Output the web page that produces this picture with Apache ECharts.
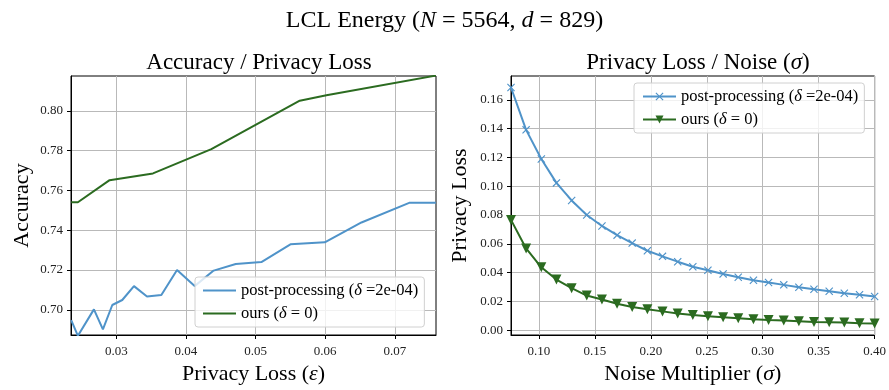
<!DOCTYPE html>
<html>
<head>
<meta charset="utf-8">
<script src="https://cdn.jsdelivr.net/npm/echarts@6/dist/echarts.min.js"></script>
<style>
  html, body { margin: 0; padding: 0; background: #fff; }
  #chart { width: 889px; height: 390px; }
</style>
</head>
<body>
<div id="chart"></div>
<script>
// left panel: accuracy vs privacy loss
const accEps = [0.02353, 0.02449, 0.02679, 0.02808, 0.02943, 0.03086, 0.03254, 0.03441, 0.03647, 0.03872,
  0.04125, 0.04398, 0.04715, 0.05083, 0.05500, 0.05993, 0.06520, 0.07205, 0.07588];
const accPost = [0.6948, 0.6869, 0.7002, 0.6901, 0.7024, 0.7049, 0.7119, 0.7067, 0.7074, 0.7200,
  0.7119, 0.7197, 0.7230, 0.7240, 0.7329, 0.7339, 0.7439, 0.7538, 0.7538];
const oursEps = [0.02353, 0.02449, 0.02904, 0.03527, 0.04365, 0.05634, 0.06017, 0.07588];
const accOurs = [0.7541, 0.7541, 0.7652, 0.7686, 0.7808, 0.8052, 0.8079, 0.8178];

// right panel: privacy loss vs noise multiplier
const sigma = [0.075, 0.0885, 0.1021, 0.1156, 0.1292, 0.1427, 0.1563, 0.1698, 0.1833, 0.1969,
  0.2104, 0.2240, 0.2375, 0.2510, 0.2646, 0.2781, 0.2917, 0.3052, 0.3188, 0.3323,
  0.3458, 0.3594, 0.3729, 0.3865, 0.4000];
const lossPost = [0.1685, 0.1391, 0.1189, 0.1023, 0.0901, 0.0800, 0.0724, 0.0660, 0.0605, 0.0552,
  0.0513, 0.0476, 0.0441, 0.0416, 0.0391, 0.0368, 0.0347, 0.0331, 0.0315, 0.0299,
  0.0285, 0.0271, 0.0257, 0.0246, 0.0234];
const lossOurs = [0.0766, 0.0568, 0.0437, 0.0352, 0.0292, 0.0241, 0.0214, 0.0184, 0.0161, 0.0145,
  0.0131, 0.0117, 0.0106, 0.0097, 0.0090, 0.0083, 0.0076, 0.0071, 0.0067, 0.0062,
  0.0057, 0.0055, 0.0053, 0.0048, 0.0046];

const epsTicks = [0.03, 0.04, 0.05, 0.06, 0.07];
const accTicks = [0.70, 0.72, 0.74, 0.76, 0.78, 0.80];
const sigmaTicks = [0.10, 0.15, 0.20, 0.25, 0.30, 0.35, 0.40];
const lossTicks = [0.00, 0.02, 0.04, 0.06, 0.08, 0.10, 0.12, 0.14, 0.16];

const BLUE = '#4f93c9';
const GREEN = '#2b6b20';
const FONT = 'Liberation Serif';
const POST = 'post-processing (δ =2e-04)';
const OURS = 'ours (δ = 0)';

const zip = (xs, ys) => xs.map((x, i) => [x, ys[i]]);
const txt = (size, extra) => ({ fontFamily: FONT, fontSize: size, fontWeight: 'normal', color: '#000', ...extra });
const richText = size => ({ n: txt(size), i: txt(size, { fontStyle: 'italic' }) });
const crossPath = 'path://M1,0L5,4L9,0L10,1L6,5L10,9L9,10L5,6L1,10L0,9L4,5L0,1Z';

function axis(gridIndex, min, max, ticks, name, gap, isY) {
  return {
    type: 'value', gridIndex, min, max,
    name, nameLocation: 'middle', nameGap: gap,
    nameTextStyle: { ...txt(22), rich: richText(22) },
    axisLine: { show: true, onZero: false, lineStyle: { color: '#000', width: 1 } },
    axisTick: { show: true, inside: false, length: 4, lineStyle: { color: '#000' }, customValues: ticks },
    axisLabel: { fontFamily: FONT, fontSize: 13, color: '#222', margin: isY ? 8 : 10, customValues: ticks,
      formatter: v => v.toFixed(2) },
    splitLine: { show: true, lineStyle: { color: '#b9b9b9', width: 1 } }
  };
}

const legendText = { ...txt(16.5, { color: '#222' }), rich: richText(16.5) };
const legendFmt = name => name === POST
  ? '{n|post-processing (}{i|δ}{n| =2e-04)}'
  : '{n|ours (}{i|δ}{n| = 0)}';
const legendBox = {
  orient: 'vertical', itemWidth: 33, itemGap: 6, padding: [5, 6, 5, 8],
  backgroundColor: 'rgba(255,255,255,0.8)', borderColor: '#d0d0d0', borderWidth: 1, borderRadius: 3,
  textStyle: legendText
};

const option = {
  animation: false,
  backgroundColor: '#fff',
  title: [
    { text: '{n|LCL Energy (}{i|N}{n| = 5564, }{i|d}{n| = 829)}', left: 'center', top: 4,
      textStyle: { rich: richText(24) } },
    { text: '{n|Accuracy / Privacy Loss}', left: 254, top: 46, textAlign: 'center',
      textStyle: { rich: richText(23) } },
    { text: '{n|Privacy Loss / Noise (}{i|σ}{n|)}', left: 693, top: 46, textAlign: 'center',
      textStyle: { rich: richText(23) } }
  ],
  grid: [
    { left: 71, top: 76, width: 365, height: 259, show: true, borderColor: '#000', borderWidth: 1 },
    { left: 511, top: 76, width: 366, height: 259, show: true, borderColor: '#000', borderWidth: 1 }
  ],
  xAxis: [
    axis(0, 0.0235, 0.0759, epsTicks, '{n|Privacy Loss (}{i|ε}{n|)}', 28, false),
    axis(1, 0.075, 0.40, sigmaTicks, '{n|Noise Multiplier (}{i|σ}{n|)}', 28, false)
  ],
  yAxis: [
    axis(0, 0.6873, 0.8176, accTicks, '{n|Accuracy}', 38, true),
    axis(1, -0.0033, 0.1765, lossTicks, '{n|Privacy Loss}', 40, true)
  ],
  legend: [
    { ...legendBox, data: [POST, OURS], left: 195, top: 277, icon: 'rect', itemHeight: 2,
      formatter: legendFmt },
    { ...legendBox, data: [POST + ' ', OURS + ' '], left: 634, top: 83, itemHeight: 10,
      formatter: n => legendFmt(n.trim()) }
  ],
  series: [
    { name: POST, type: 'line', xAxisIndex: 0, yAxisIndex: 0, data: zip(accEps, accPost),
      symbol: 'none', color: BLUE, lineStyle: { width: 2, color: BLUE }, z: 3 },
    { name: OURS, type: 'line', xAxisIndex: 0, yAxisIndex: 0, data: zip(oursEps, accOurs),
      symbol: 'none', color: GREEN, lineStyle: { width: 2, color: GREEN }, z: 3 },
    { name: POST + ' ', type: 'line', xAxisIndex: 1, yAxisIndex: 1, data: zip(sigma, lossPost),
      symbol: crossPath, symbolSize: 8, color: BLUE, itemStyle: { color: BLUE },
      lineStyle: { width: 2, color: BLUE }, z: 3 },
    { name: OURS + ' ', type: 'line', xAxisIndex: 1, yAxisIndex: 1, data: zip(sigma, lossOurs),
      symbol: 'triangle', symbolRotate: 180, symbolSize: 10, color: GREEN, itemStyle: { color: GREEN },
      lineStyle: { width: 2, color: GREEN }, z: 3 }
  ]
};

const chart = echarts.init(document.getElementById('chart'));
chart.setOption(option);
</script>
</body>
</html>
